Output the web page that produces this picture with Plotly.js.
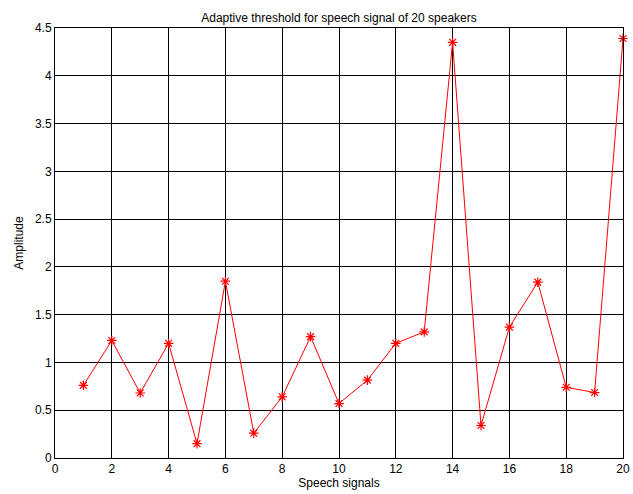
<!DOCTYPE html>
<html>
<head>
<meta charset="utf-8">
<script src="https://cdn.plot.ly/plotly-3.0.1.min.js"></script>
<style>html,body{margin:0;padding:0;background:#fff;}#chart{width:633px;height:494px;}</style>
</head>
<body>
<div id="chart"></div>
<script>
const speakers = [1,2,3,4,5,6,7,8,9,10,11,12,13,14,15,16,17,18,19,20];
const amplitude = [0.76,1.23,0.68,1.20,0.15,1.85,0.26,0.64,1.27,0.57,0.815,1.20,1.32,4.35,0.34,1.37,1.84,0.74,0.685,4.39];
const xTicks = [0,2,4,6,8,10,12,14,16,18,20];
const yTicks = [0,0.5,1,1.5,2,2.5,3,3.5,4,4.5];
const yTickText = ['0','0.5','1','1.5','2','2.5','3','3.5','4','4.5'];

const trace = {
  x: speakers, y: amplitude, type: 'scatter', mode: 'lines+markers',
  line: {color: '#ff0000', width: 1},
  marker: {symbol: 'asterisk-open', size: 8, color: '#ff0000', line: {color: '#ff0000', width: 1.2}},
  cliponaxis: false
};
const font = {family: 'Liberation Sans, Arial, sans-serif', size: 12, color: '#000'};
const layout = {
  width: 633, height: 494,
  margin: {l: 55, r: 10, t: 28, b: 36},
  paper_bgcolor: '#fff', plot_bgcolor: '#fff',
  font: font,
  showlegend: false,
  title: {text: 'Adaptive threshold for speech signal of 20 speakers', font: {family: font.family, size: 12, color: '#000'},
          x: 0.5, xref: 'paper', y: 1, yref: 'paper', yanchor: 'bottom', pad: {b: 6}},
  xaxis: {range: [0,20], tickvals: xTicks, ticktext: xTicks.map(String), showgrid: true, gridcolor: '#000', gridwidth: 1,
          zeroline: false, showline: true, linecolor: '#000', linewidth: 1, mirror: 'ticks', ticks: 'inside', ticklen: 4, tickcolor: '#000',
          tickfont: font, title: {text: 'Speech signals', font: font, standoff: 2}},
  yaxis: {range: [0,4.5], tickvals: yTicks, ticktext: yTickText, showgrid: true, gridcolor: '#000', gridwidth: 1,
          zeroline: false, showline: true, linecolor: '#000', linewidth: 1, mirror: 'ticks', ticks: 'inside', ticklen: 4, tickcolor: '#000',
          tickfont: font, title: {text: 'Amplitude', font: font, standoff: 8}}
};
Plotly.newPlot('chart', [trace], layout, {displayModeBar: false, staticPlot: true});
</script>
</body>
</html>
